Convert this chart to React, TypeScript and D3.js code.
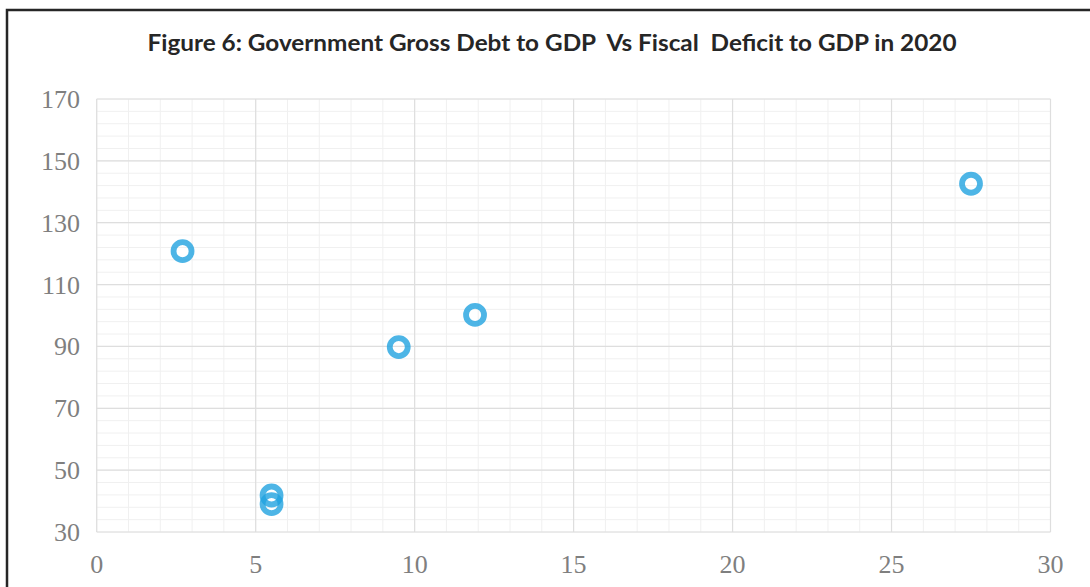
import React from "react";
import * as d3 from "d3";

const title = "Figure 6: Government Gross Debt to GDP  Vs Fiscal  Deficit to GDP in 2020";
const deficit = [2.7, 9.5, 11.9, 27.5, 5.5, 5.5];
const debt = [120.8, 89.8, 100.2, 142.6, 41.8, 39.0];
const xTicks = [0, 5, 10, 15, 20, 25, 30];
const yTicks = [30, 50, 70, 90, 110, 130, 150, 170];

export default function App() {
  const W = 1090, H = 587;
  const x = d3.scaleLinear().domain([0, 30]).range([96.7, 1050.5]);
  const y = d3.scaleLinear().domain([30, 170]).range([532, 99]);
  const xMinor = d3.range(0, 31, 1);
  const yMinor = d3.range(30, 171, 4);
  return (
    <svg width={W} height={H} style={{ position: "absolute", left: 0, top: 0 }}>
      <rect x={0} y={0} width={W} height={H} fill="#fff" />
      <path d={`M7,${H + 5} V10 H${W + 5}`} fill="none" stroke="#262626" strokeWidth={2.5} />
      <text x={552} y={51} textAnchor="middle" textLength={809} lengthAdjust="spacingAndGlyphs" style={{ whiteSpace: "pre" }} fontFamily="Lato, 'Open Sans', sans-serif" fontWeight="bold" fontSize={22.5} fill="#262626">{title}</text>
      {xMinor.map(v => (
        <line key={"xm" + v} x1={x(v)} x2={x(v)} y1={y(170)} y2={y(30)} stroke="#f0f0f0" strokeWidth={1} />
      ))}
      {yMinor.map(v => (
        <line key={"ym" + v} x1={x(0)} x2={x(30)} y1={y(v)} y2={y(v)} stroke="#f0f0f0" strokeWidth={1} />
      ))}
      {xTicks.map(v => (
        <line key={"xM" + v} x1={x(v)} x2={x(v)} y1={y(170)} y2={y(30)} stroke="#dedede" strokeWidth={1.2} />
      ))}
      {yTicks.map(v => (
        <line key={"yM" + v} x1={x(0)} x2={x(30)} y1={y(v)} y2={y(v)} stroke="#dedede" strokeWidth={1.2} />
      ))}
      {yTicks.map(v => (
        <text key={"yl" + v} x={80} y={y(v) + 9} textAnchor="end" fontFamily="'Liberation Serif', serif" fontSize={26} fill="#7f7f7f">{v}</text>
      ))}
      {xTicks.map(v => (
        <text key={"xl" + v} x={x(v)} y={573} textAnchor="middle" fontFamily="'Liberation Serif', serif" fontSize={26} fill="#7f7f7f">{v}</text>
      ))}
      {deficit.map((d, i) => (
        <circle key={"p" + i} cx={x(d)} cy={y(debt[i])} r={9} fill="none" stroke="#21a2e0" strokeOpacity={0.8} strokeWidth={5.8} />
      ))}
    </svg>
  );
}
